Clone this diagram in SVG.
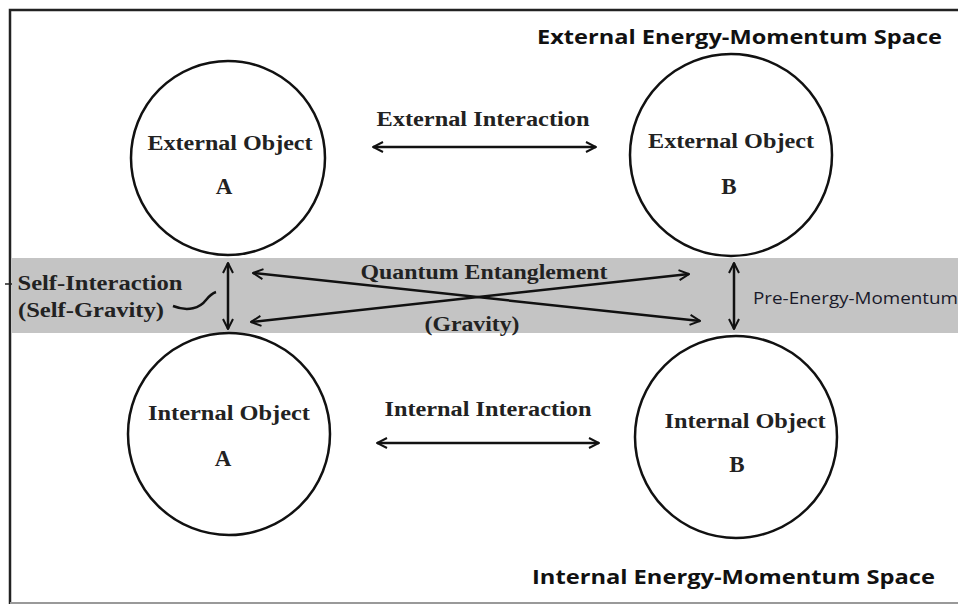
<svg xmlns="http://www.w3.org/2000/svg" width="958" height="605" viewBox="0 0 958 605">
<defs>
<marker id="arr" viewBox="0 0 12 12" refX="11" refY="6" markerWidth="12" markerHeight="12" markerUnits="userSpaceOnUse" orient="auto-start-reverse">
<path d="M1,1 L11,6 L1,11" fill="none" stroke="#111" stroke-width="2"/>
</marker>
<style>
.node{fill:#fff;stroke:#111;stroke-width:2.5}
.t{font-family:"Liberation Serif","Times New Roman",serif;font-weight:bold;font-size:20px;fill:#222;text-anchor:middle}
.L{font-size:23px}
.s{font-family:"Open Sans","Liberation Sans",sans-serif;font-weight:bold;font-size:20px;fill:#111}
.c{fill:none;stroke:#111;stroke-width:2.5}
.a{marker-start:url(#arr);marker-end:url(#arr)}
</style>
</defs>
<rect x="0" y="0" width="958" height="605" fill="#fff"/>
<rect x="12" y="258" width="946" height="75" fill="#c4c4c4"/>
<path d="M10,604 L10,10 L958,10" fill="none" stroke="#222" stroke-width="2.5"/>
<line x1="10" y1="603" x2="958" y2="603" stroke="#999" stroke-width="2"/>
<line x1="5" y1="284" x2="12" y2="284" stroke="#222" stroke-width="1.5"/>

<text class="s" x="537" y="44" textLength="405" lengthAdjust="spacingAndGlyphs">External Energy-Momentum Space</text>
<text class="s" x="532" y="584" textLength="403" lengthAdjust="spacingAndGlyphs">Internal Energy-Momentum Space</text>

<g id="extA">
<circle class="node" cx="228" cy="158" r="97"/>
<text class="t" x="230" y="150" textLength="165" lengthAdjust="spacingAndGlyphs">External Object</text>
<text class="t L" x="224" y="194">A</text>
</g>
<g id="extB">
<circle class="node" cx="731" cy="155" r="101"/>
<text class="t" x="731" y="148" textLength="166" lengthAdjust="spacingAndGlyphs">External Object</text>
<text class="t L" x="729" y="194">B</text>
</g>
<g id="intA">
<circle class="node" cx="229" cy="434" r="101"/>
<text class="t" x="229" y="420" textLength="162" lengthAdjust="spacingAndGlyphs">Internal Object</text>
<text class="t L" x="223" y="466">A</text>
</g>
<g id="intB">
<circle class="node" cx="736" cy="437" r="101"/>
<text class="t" x="745" y="428" textLength="161" lengthAdjust="spacingAndGlyphs">Internal Object</text>
<text class="t L" x="737" y="472">B</text>
</g>

<g id="connectors">
<line class="c a" x1="373" y1="147" x2="596" y2="147"/>
<line class="c a" x1="377" y1="443" x2="599" y2="443"/>
<line class="c a" x1="228" y1="263" x2="228" y2="329"/>
<line class="c a" x1="734" y1="263" x2="734" y2="329"/>
<line class="c a" x1="253" y1="273" x2="700" y2="321"/>
<line class="c a" x1="251" y1="322" x2="689" y2="274"/>
<path class="c" d="M173,306 C188,312 200,308 206,300 C210,295 213,293 216,292"/>
</g>

<g id="labels">
<text class="t" x="483" y="126" textLength="213" lengthAdjust="spacingAndGlyphs">External Interaction</text>
<text class="t" x="488" y="416" textLength="207" lengthAdjust="spacingAndGlyphs">Internal Interaction</text>
<text class="t" x="484" y="279" textLength="247" lengthAdjust="spacingAndGlyphs">Quantum Entanglement</text>
<text class="t" x="472" y="331" textLength="95" lengthAdjust="spacingAndGlyphs">(Gravity)</text>
<text class="t" x="100" y="290" textLength="165" lengthAdjust="spacingAndGlyphs">Self-Interaction</text>
<text class="t" x="91" y="317" textLength="146" lengthAdjust="spacingAndGlyphs">(Self-Gravity)</text>
<text x="753" y="304" font-family="Open Sans, Liberation Sans, sans-serif" font-size="16" fill="#1a1a2a" textLength="205" lengthAdjust="spacingAndGlyphs">Pre-Energy-Momentum</text>
</g>
</svg>
